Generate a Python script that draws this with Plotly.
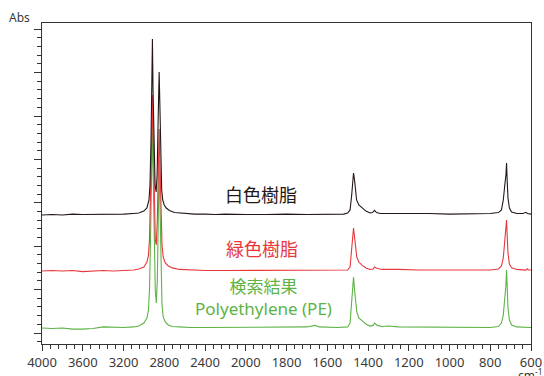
import plotly.graph_objects as go

# ---- data (wavenumber cm-1, absorbance incl. display offset) ----
wn_white = [4000, 3900, 3800, 3700, 3600, 3500, 3400, 3300, 3200, 3100, 3050, 3000, 2970, 2950, 2940, 2930,
            2922, 2916, 2910, 2900, 2890, 2880, 2870, 2860, 2850, 2844, 2835, 2825, 2815, 2800, 2780, 2750,
            2700, 2600, 2500, 2400, 2300, 2200, 2100, 2000, 1900, 1800, 1700, 1600, 1520, 1500, 1488, 1480,
            1474, 1471, 1466, 1462, 1456, 1445, 1430, 1410, 1390, 1378, 1368, 1358, 1340, 1300, 1250, 1200,
            1100, 1000, 900, 800, 760, 745, 736, 731, 727, 723, 720, 717, 713, 706, 695, 670, 640, 625, 618, 600]
abs_white = [0.544, 0.546, 0.544, 0.548, 0.546, 0.546, 0.548, 0.546, 0.548, 0.551, 0.553, 0.562, 0.576, 0.613, 0.682, 0.889,
             1.120, 1.355, 1.120, 0.797, 0.682, 0.650, 0.728, 0.982, 1.203, 1.074, 0.797, 0.659, 0.613, 0.590, 0.576, 0.565,
             0.555, 0.551, 0.548, 0.548, 0.546, 0.548, 0.546, 0.546, 0.546, 0.548, 0.546, 0.546, 0.548, 0.553, 0.567, 0.636,
             0.724, 0.737, 0.705, 0.659, 0.613, 0.590, 0.576, 0.562, 0.553, 0.555, 0.565, 0.555, 0.551, 0.551, 0.553, 0.551,
             0.551, 0.548, 0.548, 0.551, 0.555, 0.567, 0.613, 0.677, 0.696, 0.728, 0.783, 0.705, 0.622, 0.576, 0.558, 0.551, 0.551, 0.556, 0.551, 0.548]

wn_green_resin = [4000, 3900, 3800, 3700, 3600, 3500, 3400, 3300, 3200, 3100, 3050, 3000, 2970, 2955, 2945, 2935,
                  2925, 2916, 2908, 2898, 2888, 2878, 2868, 2858, 2850, 2843, 2833, 2822, 2810, 2790, 2760, 2720,
                  2650, 2550, 2400, 2200, 2000, 1800, 1650, 1550, 1500, 1488, 1480, 1474, 1471, 1466, 1461, 1455,
                  1445, 1430, 1410, 1390, 1375, 1368, 1355, 1330, 1250, 1150, 1000, 900, 800, 760, 745, 736,
                  731, 727, 723, 720, 717, 713, 706, 695, 670, 640, 625, 618, 612, 600]
abs_green_resin = [0.286, 0.288, 0.286, 0.288, 0.283, 0.286, 0.288, 0.286, 0.288, 0.290, 0.295, 0.304, 0.327, 0.359, 0.429, 0.613,
                   0.843, 1.097, 0.843, 0.567, 0.429, 0.406, 0.521, 0.751, 0.940, 0.797, 0.544, 0.406, 0.350, 0.323, 0.309, 0.300,
                   0.293, 0.290, 0.288, 0.288, 0.288, 0.288, 0.288, 0.288, 0.290, 0.304, 0.382, 0.465, 0.484, 0.442, 0.392, 0.350,
                   0.327, 0.313, 0.300, 0.293, 0.295, 0.304, 0.297, 0.293, 0.293, 0.290, 0.290, 0.290, 0.290, 0.295, 0.309, 0.346,
                   0.401, 0.419, 0.465, 0.521, 0.452, 0.369, 0.318, 0.300, 0.293, 0.293, 0.290, 0.296, 0.290, 0.290]

wn_pe = [4000, 3900, 3800, 3700, 3600, 3500, 3400, 3300, 3200, 3100, 3050, 3000, 2970, 2955, 2945, 2935,
         2925, 2916, 2908, 2898, 2888, 2878, 2868, 2858, 2850, 2843, 2833, 2822, 2810, 2790, 2760, 2720,
         2650, 2550, 2400, 2200, 2000, 1800, 1700, 1660, 1640, 1550, 1500, 1488, 1480, 1474, 1471, 1466,
         1461, 1455, 1445, 1430, 1410, 1390, 1375, 1368, 1355, 1330, 1300, 1250, 1150, 1000, 900, 800,
         760, 745, 736, 731, 727, 723, 720, 717, 713, 706, 695, 670, 640, 620, 600]
abs_pe = [0.023, 0.021, 0.023, 0.018, 0.018, 0.021, 0.028, 0.025, 0.025, 0.028, 0.032, 0.046, 0.069, 0.106, 0.198, 0.429,
          0.751, 0.959, 0.705, 0.382, 0.198, 0.138, 0.244, 0.544, 0.797, 0.613, 0.290, 0.129, 0.074, 0.051, 0.037, 0.030,
          0.028, 0.025, 0.025, 0.025, 0.025, 0.025, 0.028, 0.035, 0.028, 0.025, 0.028, 0.046, 0.129, 0.221, 0.258, 0.198,
          0.143, 0.097, 0.069, 0.055, 0.041, 0.032, 0.035, 0.046, 0.035, 0.030, 0.032, 0.028, 0.028, 0.028, 0.025, 0.025,
          0.030, 0.046, 0.083, 0.138, 0.161, 0.221, 0.290, 0.207, 0.115, 0.060, 0.037, 0.028, 0.028, 0.025, 0.025]

x_tick_labels = [4000, 3600, 3200, 2800, 2400, 2000, 1800, 1600, 1400, 1200, 1000, 800, 600]

BLACK = "#231815"
RED = "#e8383d"
GREEN = "#5db346"


# FTIR axis: scale doubles below 2000 cm-1
def to_axis(w):
    return (4000 - w) / 2.0 if w >= 2000 else 1000 + (2000 - w)


fig = go.Figure()
for wn, ab, col in [(wn_pe, abs_pe, GREEN), (wn_green_resin, abs_green_resin, RED), (wn_white, abs_white, BLACK)]:
    fig.add_trace(go.Scatter(x=[to_axis(w) for w in wn], y=ab, mode="lines",
                             line=dict(color=col, width=1.1), hoverinfo="skip", showlegend=False))

cjk = "Noto Sans CJK JP"
fig.add_annotation(x=to_axis(1925), y=0.641, text="白色樹脂", showarrow=False,
                   font=dict(family=cjk, size=18, color=BLACK))
fig.add_annotation(x=to_axis(1920), y=0.392, text="緑色樹脂", showarrow=False,
                   font=dict(family=cjk, size=18, color=RED))
fig.add_annotation(x=to_axis(1912), y=0.164, text="検索結果<br>Polyethylene (PE)", showarrow=False,
                   font=dict(family="Noto Sans, Noto Sans CJK JP", size=17, color=GREEN))
fig.add_annotation(xref="paper", yref="paper", x=-0.045, y=1.016, text="Abs", showarrow=False,
                   xanchor="center", yanchor="middle", font=dict(family="Noto Sans", size=12, color="#3a3a3a"))
fig.add_annotation(xref="paper", yref="paper", x=0.998, y=-0.061, text="cm<sup>-1</sup>", showarrow=False,
                   xanchor="center", yanchor="top", font=dict(family="Noto Sans", size=12, color="#3a3a3a"))

axis_col = "#333333"
fig.update_xaxes(range=[0, to_axis(600)], tickmode="array", automargin=False,
                 tickvals=[to_axis(w) for w in x_tick_labels], ticktext=[str(w) for w in x_tick_labels],
                 ticks="outside", ticklen=6, tickcolor=axis_col, tickwidth=1,
                 minor=dict(tickmode="linear", tick0=0, dtick=40, ticks="outside", ticklen=4,
                            tickcolor=axis_col, tickwidth=1, showgrid=False),
                 showline=True, linecolor=axis_col, linewidth=1, mirror=True,
                 showgrid=False, zeroline=False,
                 tickfont=dict(family="Noto Sans", size=13, color="#3a3a3a"))
fig.update_yaxes(range=[-0.0507, 1.4286], tickmode="linear", tick0=0, dtick=0.2, automargin=False,
                 ticks="outside", ticklen=7, tickcolor=axis_col, tickwidth=1, showticklabels=False,
                 minor=dict(tickmode="linear", tick0=0, dtick=0.04, ticks="outside", ticklen=4,
                            tickcolor=axis_col, tickwidth=1, showgrid=False),
                 showline=True, linecolor=axis_col, linewidth=1, mirror=True,
                 showgrid=False, zeroline=False)
fig.update_layout(width=544, height=376, margin=dict(l=42, r=13, t=23, b=32),
                  plot_bgcolor="white", paper_bgcolor="white")
fig.write_html("out.html", config={"displayModeBar": False},
               post_script="document.body.style.margin='0';document.body.style.overflow='hidden';")
